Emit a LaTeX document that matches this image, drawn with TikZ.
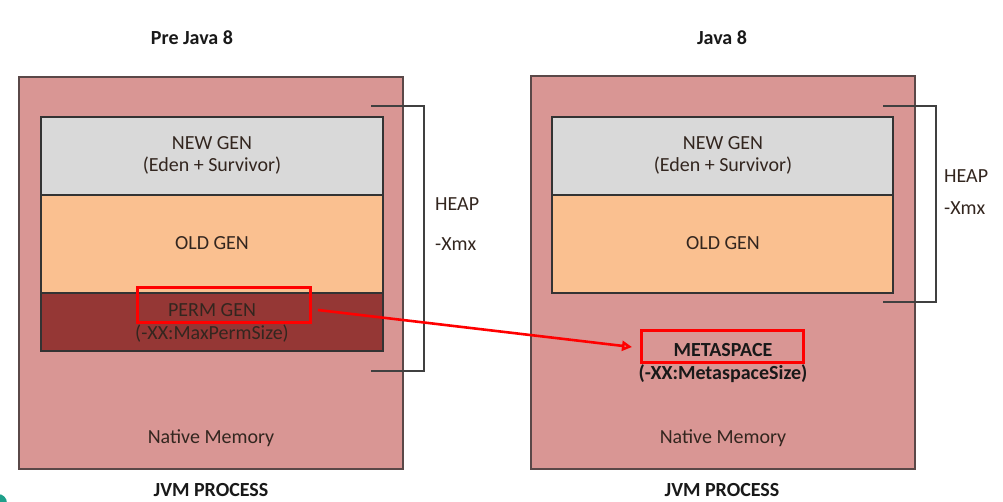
\documentclass[tikz,border=0pt]{standalone}
\usepackage{fontspec}
\setmainfont{Carlito}
\usetikzlibrary{arrows.meta}
\definecolor{pinkbg}{HTML}{D99694}
\definecolor{newgen}{HTML}{D9D9D9}
\definecolor{oldgen}{HTML}{FAC090}
\definecolor{permgen}{HTML}{953735}
\definecolor{txt}{HTML}{33261F}
\definecolor{edge}{HTML}{5A4848}
\definecolor{bracketc}{HTML}{404040}
\definecolor{arrowred}{HTML}{FF0000}
\definecolor{tealc}{HTML}{1FA08A}
\begin{document}
\begin{tikzpicture}[x=1pt,y=-1pt,
  outerbox/.style={draw=edge,line width=1.5pt,fill=pinkbg},
  layer/.style={draw=black!80,line width=1.1pt},
  lbl/.style={font=\fontsize{20}{23}\selectfont,text=txt,align=center,inner sep=0pt},
  title/.style={font=\fontsize{20}{23}\selectfont\bfseries,text=black!90,inner sep=0pt},
  redbox/.style={draw=arrowred,line width=3pt},
  brk/.style={draw=bracketc,line width=1.1pt},
  redarrow/.style={draw=arrowred,line width=2.6pt,-{Triangle[open,length=10pt,width=10pt]}}
]
\useasboundingbox (0,0) rectangle (1003,501);
\fill[white] (0,0) rectangle (1003,501);
\fill[tealc] (-2,503) circle (9);

% ---------- Pre Java 8 ----------
\node[title] (t1) at (192,38) {Pre Java 8};
\draw[outerbox] (19,77) rectangle (403,469);
\draw[layer,fill=newgen] (41,117) rectangle (383,195);
\draw[layer,fill=oldgen] (41,195) rectangle (383,293);
\draw[layer,fill=permgen] (41,293) rectangle (383,351);
\node[lbl] (ng1) at (212,143) {NEW GEN};
\node[lbl] (ngs1) at (212,166) {(Eden + Survivor)};
\node[lbl] (og1) at (212,243) {OLD GEN};
\node[lbl] (pg1) at (212,310) {PERM GEN};
\node[lbl] (pgs1) at (212,334) {(-XX:MaxPermSize)};
\draw[redbox] (137,287) rectangle (310,322);
\coordinate (pgout) at (318,310);
\node[lbl] (nm1) at (211,438) {Native Memory};
\node[title] (jvm1) at (211,490) {JVM PROCESS};
\draw[brk] (371,106) -- (424,106) -- (424,371) -- (371,371);
\node[lbl,anchor=west] (heap1) at (435,204) {HEAP};
\node[lbl,anchor=west] (xmx1) at (435,244) {-Xmx};

% ---------- Java 8 ----------
\node[title] (t2) at (722,38) {Java 8};
\draw[outerbox] (531,76) rectangle (915,469);
\draw[layer,fill=newgen] (552,117) rectangle (893,195);
\draw[layer,fill=oldgen] (552,195) rectangle (893,293);
\node[lbl] (ng2) at (723,143) {NEW GEN};
\node[lbl] (ngs2) at (723,166) {(Eden + Survivor)};
\node[lbl] (og2) at (723,243) {OLD GEN};
\draw[brk] (883,106) -- (936,106) -- (936,302) -- (883,302);
\node[lbl,anchor=west] (heap2) at (944,176) {HEAP};
\node[lbl,anchor=west] (xmx2) at (944,208) {-Xmx};
\node[title] (ms) at (723,350) {METASPACE};
\node[title] (mss) at (723,374) {(-XX:MetaspaceSize)};
\draw[redbox] (641,330) rectangle (803,362);
\coordinate (msin) at (632,347);
\node[lbl] (nm2) at (723,438) {Native Memory};
\node[title] (jvm2) at (722,490) {JVM PROCESS};

% ---------- arrow ----------
\draw[redarrow] (pgout) -- (msin);
\end{tikzpicture}
\end{document}
